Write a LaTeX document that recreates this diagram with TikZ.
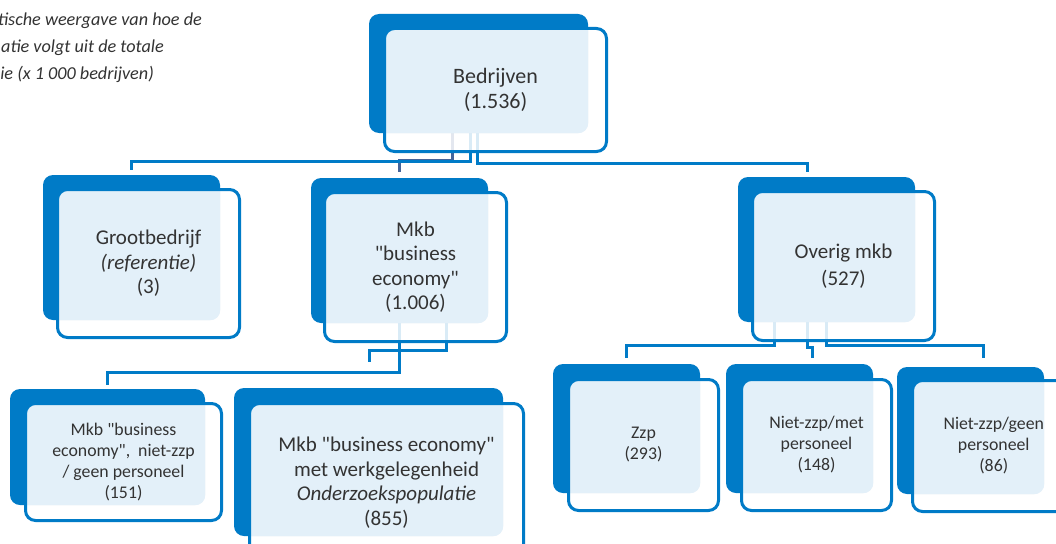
\documentclass[tikz,border=0pt]{standalone}
\usepackage{fontspec}
\setmainfont{Carlito}
\newfontfamily\cf{Carlito}
\usetikzlibrary{fit}
\definecolor{roblue}{HTML}{007BC7}
\definecolor{rolight}{HTML}{E3F0F9}
\definecolor{roslate}{HTML}{44649A}
\definecolor{rotext}{HTML}{333333}
\pgfdeclarelayer{bottom}
\pgfdeclarelayer{bg}
\pgfsetlayers{bottom,bg,main}
\tikzset{
  backbox/.style={fill=roblue, rounded corners=10pt, inner sep=0pt, draw=none},
  frontfill/.style={fill=white, fill opacity=0.85, rounded corners=10pt, inner sep=0pt, draw=none},
  frontline/.style={draw=roblue, line width=3pt, rounded corners=10pt, inner sep=0pt},
  lbl/.style={align=center, text=rotext, inner sep=0pt},
  tA/.style={font=\cf\fontsize{22}{25.7}\selectfont},
  tB/.style={font=\cf\fontsize{21}{24.4}\selectfont},
  tC/.style={font=\cf\fontsize{21}{26.7}\selectfont},
  tD/.style={font=\cf\fontsize{17.8}{21}\selectfont},
  ttl/.style={anchor=base east, text=rotext, inner sep=0pt, font=\cf\fontsize{18.2}{20}\selectfont\itshape},
  conn/.style={draw=roblue, line width=3pt},
  connslate/.style={draw=roslate, line width=3pt},
}
\newcommand\cbox[5]{%
  \node[backbox, fit={#2}] (#1-b) {};
  \node[frontfill, fit={#3}] (#1-f) {};
  \begin{scope}
    \clip[rounded corners=10pt] (#1-f.south west) rectangle (#1-f.north east);
    \fill[rolight, rounded corners=10pt] (#1-b.south west) rectangle (#1-b.north east);
  \end{scope}
  \node[frontline, fit={#3}] (#1) {};
  \node[lbl, #4] (#1-t) at (#1.center) {#5};
}
\begin{document}
\begin{tikzpicture}[x=1pt, y=-1pt]
\useasboundingbox (0,0) rectangle (1056,543);
\begin{pgfonlayer}{bottom}
\fill[white] (0,0) rectangle (1056,543);
\end{pgfonlayer}

% title (cut off at the left edge)
\node[ttl] (t1) at (202,26) {tische weergave van hoe de};
\node[ttl] (t2) at (164,52.7) {atie volgt uit de totale};
\node[ttl] (t3) at (154,79) {ie (x 1 000 bedrijven)};

% boxes
\cbox{bed}{(369,14) (588,133)}{(384.5,28.5) (606.5,151.5)}{tA}{Bedrijven\\(1.536)}
\cbox{groot}{(43,175) (220,320)}{(57.5,189.5) (239.5,337.5)}{tB}{Grootbedrijf\\\textit{(referentie)}\\(3)}
\cbox{mkb}{(311,178) (488,323)}{(324.5,192.5) (506.5,341.5)}{tB}{Mkb\\"business\\economy"\\(1.006)}
\cbox{ov}{(738,177) (915,322)}{(752.5,191.5) (934.5,340.5)}{tC}{Overig mkb\\(527)}
\cbox{mkbn}{(10,389) (205,505)}{(25.5,403.5) (221.5,520.5)}{tD}{Mkb "business\\economy",\ \ niet-zzp\\/ geen personeel\\(151)}
\cbox{onder}{(234,388) (503,536)}{(249.5,403.5) (523.5,562)}{tB}{Mkb "business economy"\\met werkgelegenheid\\\textit{Onderzoekspopulatie}\\(855)}
\cbox{zzp}{(553,364) (700,493)}{(568.5,379.5) (718.5,510.5)}{tD}{Zzp\\(293)}
\cbox{met}{(726,364) (873,493)}{(741.5,379.5) (891.5,510.5)}{tD}{Niet-zzp/met\\personeel\\(148)}
\cbox{geen}{(897,367) (1044,494)}{(912.5,380.5) (1075,511.5)}{tD}{Niet-zzp/geen\\personeel\\(86)}

% connectors
\begin{pgfonlayer}{bg}
\draw[connslate] ([xshift=-26.5pt]bed-b.south) -- ++(0,27) -| ([yshift=6pt]mkb-b.north);
\draw[conn] ([xshift=-8.5pt]bed-b.south) -- ++(0,28) -| ([yshift=5pt]groot-b.north);
\draw[conn] ([xshift=-1.5pt]bed-b.south) -- ++(0,30) -| ([xshift=-19.5pt,yshift=5pt]ov-b.north);

\draw[conn] (mkb-b.south) -- ++(0,49) -| ([yshift=4pt]mkbn-b.north);
\draw[conn] ([xshift=46.5pt]mkb-b.south) -- ++(0,27) -| ([xshift=0.5pt,yshift=26pt]onder-b.north);

\draw[conn] ([xshift=-52.5pt]ov-b.south) -- ++(0,23) -| ([yshift=6pt]zzp-b.north);
\draw[conn] ([xshift=-19.5pt]ov-b.south) -- ++(0,25) -| ([xshift=12.5pt,yshift=6pt]met-b.north);
\draw[conn] ([xshift=-0.5pt]ov-b.south) -- ++(0,23) -| ([xshift=13pt,yshift=9pt]geen-b.north);
\end{pgfonlayer}
\end{tikzpicture}
\end{document}
